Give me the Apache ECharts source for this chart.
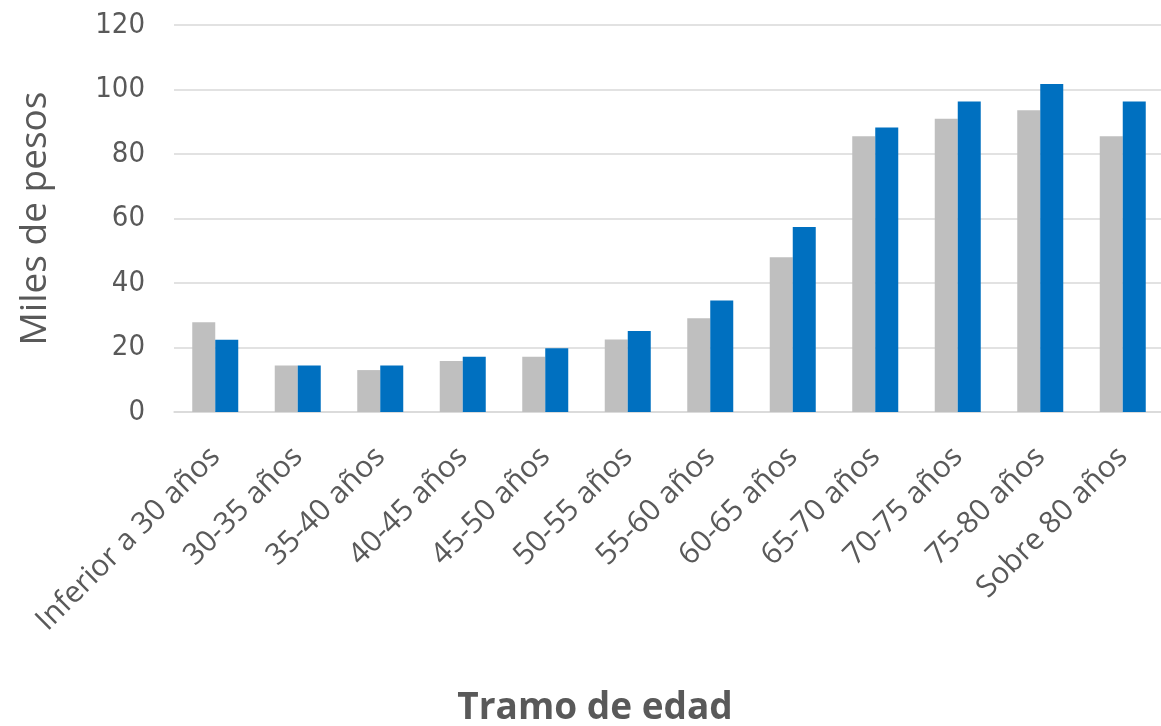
<!DOCTYPE html>
<html>
<head>
<meta charset="utf-8">
<script src="https://cdn.jsdelivr.net/npm/echarts@6/dist/echarts.min.js"></script>
<style>
html,body{margin:0;padding:0;background:#fff;}
#c{width:1161px;height:726px;}
</style>
</head>
<body>
<div id="c"></div>
<script>
const categories = ["Inferior a 30 años","30-35 años","35-40 años","40-45 años","45-50 años","50-55 años","55-60 años","60-65 años","65-70 años","70-75 años","75-80 años","Sobre 80 años"];
const serieGris = [27.8, 14.4, 13.0, 15.8, 17.1, 22.5, 29.1, 48.0, 85.5, 90.9, 93.6, 85.5];
const serieAzul = [22.4, 14.4, 14.4, 17.1, 19.8, 25.1, 34.6, 57.4, 88.2, 96.3, 101.7, 96.3];
const yTicks = [0, 20, 40, 60, 80, 100, 120];

const chart = echarts.init(document.getElementById('c'), null, {renderer:'canvas'});
const txt = '#595959';
chart.setOption({
  animation: false,
  backgroundColor: '#ffffff',
  grid: {left: 174, right: -3, top: 25, bottom: 314, containLabel: false, outerBoundsMode: 'none'},
  xAxis: {
    type: 'category',
    data: categories,
    axisLine: {show: true, lineStyle: {color: '#D9D9D9', width: 1.5}},
    axisTick: {show: false},
    axisLabel: {rotate: 45, interval: 0, margin: 40, color: txt, fontSize: 30, fontFamily: '"Open Sans", "Noto Sans", sans-serif'}
  },
  yAxis: {
    type: 'value',
    min: yTicks[0],
    max: yTicks[yTicks.length - 1],
    interval: 20,
    name: 'Miles de pesos',
    nameLocation: 'middle',
    nameGap: 120,
    nameMoveOverlap: false,
    nameTextStyle: {color: txt, fontSize: 37, fontFamily: '"Open Sans", "Noto Sans", sans-serif'},
    axisLine: {show: false},
    axisTick: {show: false},
    splitLine: {lineStyle: {color: '#D9D9D9', width: 1.5}},
    axisLabel: {margin: 29, color: txt, fontSize: 29, fontFamily: '"Liberation Sans Narrow", "DejaVu Sans Condensed", sans-serif',
      formatter: v => String(v)}
  },
  series: [
    {name: 'Serie 1', type: 'bar', data: serieGris, barWidth: 23, barGap: '0%', itemStyle: {color: '#BFBFBF'}},
    {name: 'Serie 2', type: 'bar', data: serieAzul, barWidth: 23, barGap: '0%', itemStyle: {color: '#0070C0'}}
  ],
  graphic: [{
    type: 'text', x: 595, y: 708,
    style: {text: 'Tramo de edad', textAlign: 'center', textVerticalAlign: 'middle',
      font: 'bold 37px "Open Sans", "Noto Sans", sans-serif', fill: txt}
  }]
});
</script>
</body>
</html>
